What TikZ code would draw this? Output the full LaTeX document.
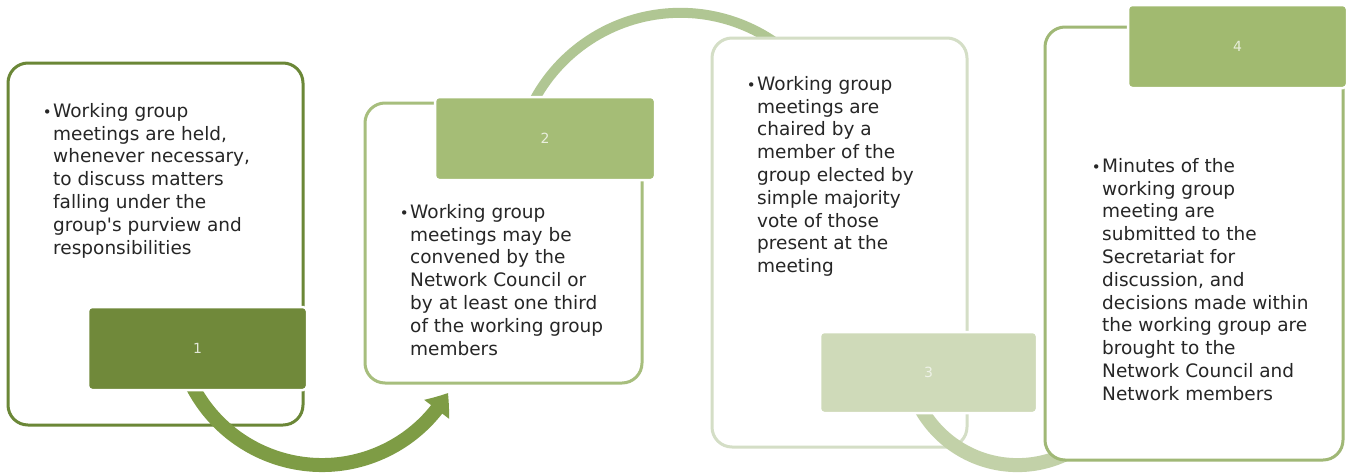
\documentclass[tikz,border=0pt]{standalone}
\usepackage{fontspec}
\setmainfont{DejaVu Sans}[Ligatures=TeXOff]
\usetikzlibrary{arrows.meta,calc,bending}
\definecolor{txtcol}{HTML}{262626}
\definecolor{bordA}{HTML}{6B8737}
\definecolor{tabA}{HTML}{70893A}
\definecolor{arrA}{HTML}{7E9C45}
\definecolor{bordB}{HTML}{A7BE7D}
\definecolor{tabB}{HTML}{A5BD76}
\definecolor{arcB}{HTML}{B0C693}
\definecolor{bordC}{HTML}{D4DEC6}
\definecolor{tabC}{HTML}{CFDAB9}
\definecolor{arcC}{HTML}{C2D1A8}
\definecolor{bordD}{HTML}{A0B876}
\definecolor{tabD}{HTML}{A1BA70}
\begin{document}
\begin{tikzpicture}[x=1pt,y=-1pt,
  box/.style={draw, line width=3pt, rounded corners=20pt, fill=white, inner sep=0pt},
  tab/.style={draw=white, line width=2.5pt, rounded corners=4pt, inner sep=0pt,
              font=\fontsize{14}{14}\selectfont},
  txt/.style={anchor=north west, inner sep=0pt, align=left, text=txtcol,
              font=\fontsize{18.5}{22.8}\selectfont},
  conn/.style={line width=#1, line cap=butt}
]
\newcommand{\bul}{{\fontsize{15}{15}\selectfont\llap{•\kern1.5pt}}}
\fill[white] (0,0) rectangle (1352,472);
\useasboundingbox (0,0) rectangle (1352,472);

% arc centres
\coordinate (c1) at (322,319);
\coordinate (c2) at (680.4,178.8);
\coordinate (c3) at (1017.5,354.1);

% arc 2 (behind tab 2 and box 3)
\coordinate (a2s) at ($(c2)+(205:166)$);
\draw[conn=10pt, arcB] (a2s) arc[start angle=205, end angle=320, radius=166];

% box 1
\node[box, draw=bordA, minimum width=295pt, minimum height=362pt] (b1) at (155.5,244) {};
\node[txt] (t1) at (53,103) {\bul Working group\\ meetings are held,\\ whenever necessary,\\ to discuss matters\\ falling under the\\ group's purview and\\ responsibilities};
\coordinate (a1s) at ($(c1)+(155:146)$);
\draw[conn=14pt, arrA, -{Triangle[width=30pt,length=20pt,bend]}] (a1s) arc[start angle=155, end angle=30.4, radius=146];
\node[tab, fill=tabA, text=white!80!tabA, minimum width=219pt, minimum height=83pt] (n1) at (197.5,348.5) {1};

% box 2
\node[box, draw=bordB, minimum width=277pt, minimum height=280pt] (b2) at (503.5,243) {};
\node[txt] (t2) at (410,204) {\bul Working group\\ meetings may be\\ convened by the\\ Network Council or\\ by at least one third\\ of the working group\\ members};
\node[tab, fill=tabB, text=white!75!tabB, minimum width=220pt, minimum height=83pt] (n2) at (545,138.5) {2};

% box 3
\node[box, draw=bordC, minimum width=255pt, minimum height=409pt] (b3) at (839.5,242.5) {};
\node[txt] (t3) at (757,76) {\bul Working group\\ meetings are\\ chaired by a\\ member of the\\ group elected by\\ simple majority\\ vote of those\\ present at the\\ meeting};
\coordinate (a3s) at ($(c3)+(150:111)$);
\draw[conn=14pt, arcC] (a3s) arc[start angle=150, end angle=40, radius=111];
\node[tab, fill=tabC, text=white!65!tabC, minimum width=217pt, minimum height=81pt] (n3) at (928.5,372.5) {3};

% box 4
\node[box, draw=bordD, minimum width=298pt, minimum height=433pt] (b4) at (1194,243.5) {};
\node[txt] (t4) at (1102,158) {\bul Minutes of the\\ working group\\ meeting are\\ submitted to the\\ Secretariat for\\ discussion, and\\ decisions made within\\ the working group are\\ brought to the\\ Network Council and\\ Network members};
\node[tab, fill=tabD, text=white!75!tabD, minimum width=219pt, minimum height=83pt] (n4) at (1237.5,46.5) {4};
\end{tikzpicture}
\end{document}
